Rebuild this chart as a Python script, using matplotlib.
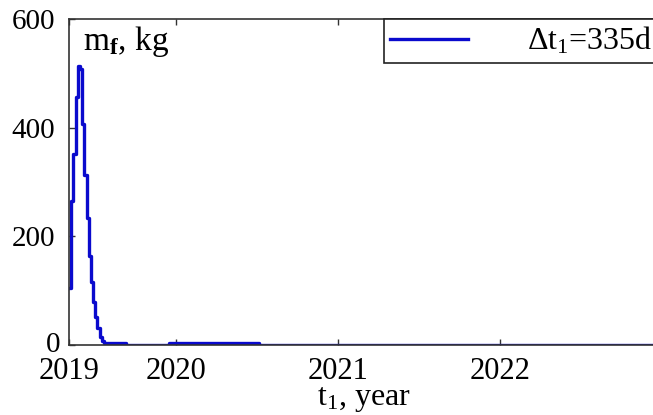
import matplotlib
matplotlib.use("Agg")
import matplotlib.pyplot as plt
import matplotlib.transforms as mtransforms

plt.rcParams['font.family'] = ['Liberation Serif', 'DejaVu Serif']
plt.rcParams['mathtext.fontset'] = 'custom'
plt.rcParams['mathtext.rm'] = 'Liberation Serif'
plt.rcParams['mathtext.it'] = 'Liberation Serif:italic'
plt.rcParams['mathtext.bf'] = 'Liberation Serif:bold'

# data: launch time t1 (year) and fuel mass mf (kg)
t1 = [2019.340, 2019.3535, 2019.367, 2019.3805, 2019.394, 2019.4075,
      2019.421, 2019.4345, 2019.448, 2019.4615, 2019.475, 2019.4885,
      2019.502, 2019.5155, 2019.529, 2019.5425, 2019.556, 2019.69,
      2019.96, 2020.51, 2022.98]
mf = [105, 264, 352, 456, 514, 508, 407, 313, 233, 164, 115, 78,
      51, 30, 14, 7, 2.5, 0.3, 2.5, 0.3, 0.3]

x_left = 2019.34
x_right = 2022.98
xtick_pos = [2019.34, 2020, 2021, 2022]
xtick_labels = ['2019', '2020', '2021', '2022']
ytick_pos = [0, 200, 400, 600]
legend_label = r'$\Delta$t$_1$=335d'

fig = plt.figure(figsize=(6.53, 4.15), dpi=100)
ax = fig.add_axes([69 / 653, 70.3 / 415, (659 - 69) / 653, 325.7 / 415])

ax.plot(t1, mf, drawstyle='steps-post', color='#0a0acd', lw=2.4,
        label=legend_label)

ax.set_xlim(x_left, x_right)
ax.set_ylim(0, 600)
ax.set_xticks(xtick_pos)
ax.set_xticklabels(xtick_labels)
ax.set_yticks(ytick_pos)

ax.tick_params(direction='in', top=True, right=True, length=4,
               width=1.0, color='#333333', labelsize=22)
ax.tick_params(axis='x', pad=9)
ax.tick_params(axis='y', pad=10, labelsize=21)
for sp in ax.spines.values():
    sp.set_linewidth(1.2)
    sp.set_color('#333333')

# shift the "0" label toward the axis like in the reference
lab0 = ax.get_yticklabels()[0]
lab0.set_transform(lab0.get_transform() +
                   mtransforms.ScaledTranslation(5 / 100, 3 / 100, fig.dpi_scale_trans))

ax.set_xlabel(r't$_1$, year', fontsize=23, labelpad=-1)
ax.text(0.024, 0.905, r'm$_{\mathbf{f}}$, kg', transform=ax.transAxes,
        fontsize=24, va='baseline', ha='left')

leg = ax.legend(loc='upper right', fontsize=23, frameon=True, fancybox=False,
                borderaxespad=0, handlelength=2.45, handletextpad=1.85,
                borderpad=0.2)
leg.get_frame().set_edgecolor('#222222')
leg.get_frame().set_linewidth(1.2)
leg.get_frame().set_alpha(1)

fig.savefig('out.png', dpi=100)
